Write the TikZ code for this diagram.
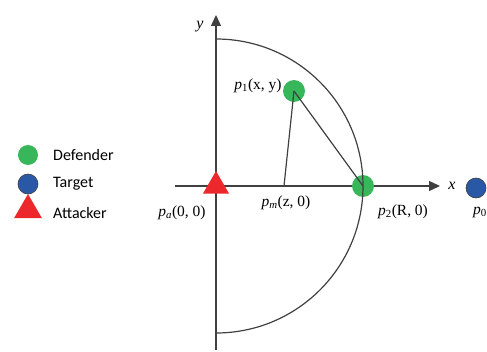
\documentclass[tikz,border=0pt]{standalone}
\usepackage{fontspec}
\setmainfont{Liberation Serif}
\newfontfamily\legendfont{Carlito}
\usepackage{tikz}
\usetikzlibrary{arrows.meta,positioning,shapes.geometric}

\definecolor{defgreen}{RGB}{56,182,90}
\definecolor{tgtblue}{RGB}{40,88,166}
\definecolor{atkred}{RGB}{237,40,45}
\definecolor{axisgray}{RGB}{64,64,64}

\begin{document}
\begin{tikzpicture}[
  x=1pt,y=1pt,
  axis/.style={draw=axisgray,line width=1.4pt,-{Triangle[length=11pt,width=10pt]}},
  link/.style={draw=axisgray,line width=1.2pt},
  defender/.style={circle,fill=defgreen,minimum size=22pt,inner sep=0pt},
  target/.style={circle,fill=tgtblue,draw=axisgray,line width=0.6pt,minimum size=20pt,inner sep=0pt},
  attacker/.style={regular polygon,regular polygon sides=3,fill=atkred,minimum size=30pt,inner sep=0pt},
  lbl/.style={font=\fontsize{15.5}{17}\selectfont,inner sep=1pt},
  leg/.style={font=\legendfont\fontsize{16}{18}\selectfont,anchor=west,inner sep=0pt}
]
\useasboundingbox (-216,-165) rectangle (271,186);

% axes
\coordinate (xstart) at (-41,0);
\coordinate (xend) at (224,0);
\coordinate (ystart) at (0,-164);
\coordinate (yend) at (0,171);
\draw[axis] (xstart) -- (xend);
\draw[axis] (ystart) -- (yend);
\node[lbl,font=\fontsize{16}{17}\selectfont\itshape] (xlab) at (236,0) {x};
\node[lbl,font=\fontsize{16}{17}\selectfont\itshape] (ylab) at (-16,159) {y};

% players
\node[attacker] (pa) at (0,0) {};
\node[defender] (p1) at (78,95) {};
\node[defender] (p2) at (147,0) {};
\node[target] (p0) at (260,-2) {};
\coordinate (pm) at (68,0);
\coordinate (top) at (0,147);

% circle and links
\draw[link] (top) arc[start angle=90,end angle=-90,radius=147];
\draw[link] (p1.center) -- (pm);
\draw[link] (p1.center) -- (p2.center);

% labels
\node[lbl] (p1lab) at (42,100) {\textit{p}\textsubscript{1}(x, y)};
\node[lbl] (pmlab) at (70,-17) {\textit{p}\textsubscript{\textit{m}}(z, 0)};
\node[lbl] (palab) at (-34,-27) {\textit{p}\textsubscript{\textit{a}}(0, 0)};
\node[lbl] (p2lab) at (187,-26) {\textit{p}\textsubscript{2}(R, 0)};
\node[lbl] (p0lab) at (264,-26) {\textit{p}\textsubscript{0}};

% legend
\node[defender,minimum size=20pt] (legdef) at (-188,31) {};
\node[target] (legtgt) at (-188,2) {};
\node[attacker,minimum size=32pt] (legatk) at (-188,-24) {};
\node[leg] at (-163,31) {Defender};
\node[leg] at (-163,2) {Target};
\node[leg] at (-163,-27) {Attacker};
\end{tikzpicture}
\end{document}
